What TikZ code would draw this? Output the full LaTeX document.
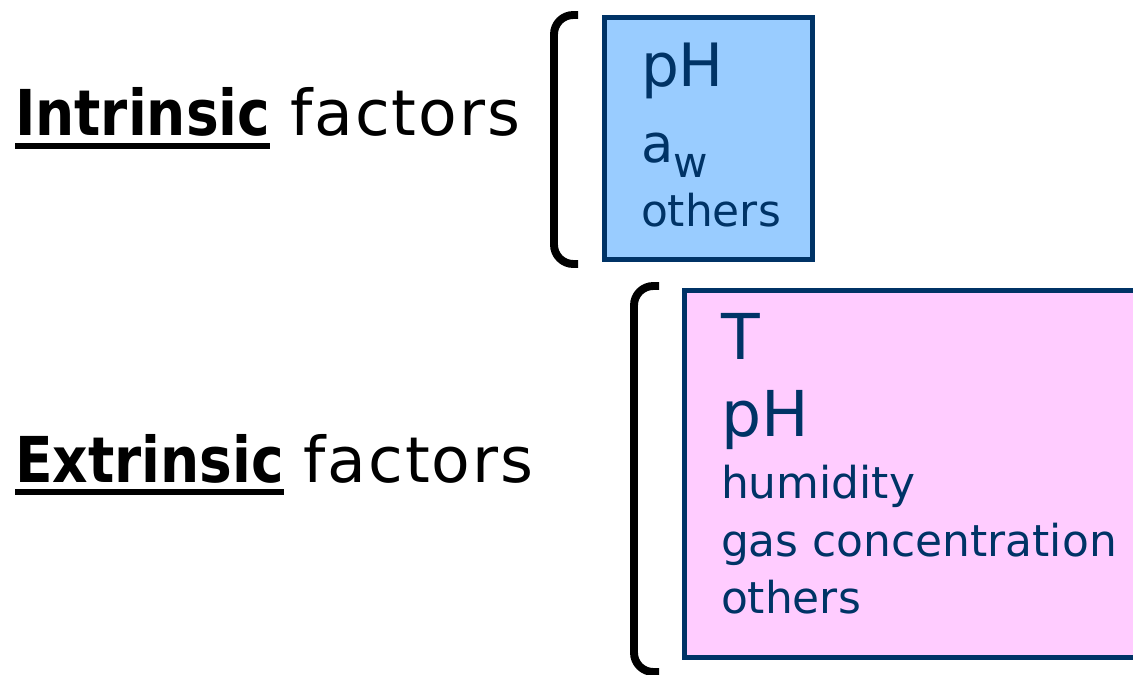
\documentclass[tikz,border=0pt]{standalone}
\usepackage{fontspec}
\setmainfont{DejaVu Sans}[BoldFeatures={FakeStretch=0.87}]
\usepackage{tikz}
\usetikzlibrary{positioning}

\definecolor{navy}{HTML}{003366}
\definecolor{skyfill}{HTML}{99CCFF}
\definecolor{pinkfill}{HTML}{FFCCFF}

\newcommand{\fs}[1]{\fontsize{#1}{1.2\dimexpr#1pt\relax}\selectfont}

\begin{document}
\begin{tikzpicture}[x=0.02cm, y=-0.02cm,
    every node/.style={inner sep=0pt, outer sep=0pt},
    heading/.style={anchor=base west, font=\fs{36}},
    factorbox/.style={draw=navy, line width=2.8pt, anchor=north west},
    item/.style={anchor=base west, text=navy},
    bracket/.style={line width=4.5pt, rounded corners=11pt},
    uline/.style={line width=3.4pt}
]
\useasboundingbox (0,0) rectangle (1133,675);

% Intrinsic factors
\node[heading, font=\fs{36}\bfseries] (intrword) at (15,136) {Intrinsic};
\node[heading, base right=0.4cm of intrword, font=\fs{36}\addfontfeatures{LetterSpace=3}]
    (intrrest) {factors};
\draw[uline] ([yshift=-5.7pt]intrword.base west) -- ([yshift=-5.7pt]intrword.base east);

\draw[bracket] (578,15) -- (554,15) -- (554,264) -- (578,264);
\node[factorbox, fill=skyfill, minimum width=208*0.02cm, minimum height=242*0.02cm]
    (intrbox) at (604.5,17.5) {};
\node[item, font=\fs{34}] (intrph) at (641,87) {pH};
\node[item, font=\fs{30}] (intraw) at (641,163) {a\raisebox{-8.5pt}{\fs{24}w}};
\node[item, font=\fs{25}] (introther) at (641,227) {others};

% Extrinsic factors
\node[heading, font=\fs{36}\bfseries] (extrword) at (15,482) {Extrinsic};
\node[heading, base right=0.4cm of extrword, font=\fs{36}\addfontfeatures{LetterSpace=3}]
    (extrrest) {factors};
\draw[uline] ([yshift=-5.7pt]extrword.base west) -- ([yshift=-5.7pt]extrword.base east);

\draw[bracket] (659,286) -- (634,286) -- (634,672) -- (659,672);
\node[factorbox, fill=pinkfill, minimum width=460*0.02cm, minimum height=367*0.02cm]
    (extrbox) at (684.5,290.5) {};
\node[item, font=\fs{36}] (extrt) at (721,360) {T};
\node[item, font=\fs{36}] (extrph) at (721,437) {pH};
\node[item, font=\fs{25}] (extrhum) at (721,499) {humidity};
\node[item, font=\fs{25}] (extrgas) at (721,557) {gas concentration};
\node[item, font=\fs{25}] (extrother) at (721,613) {others};

\end{tikzpicture}
\end{document}
